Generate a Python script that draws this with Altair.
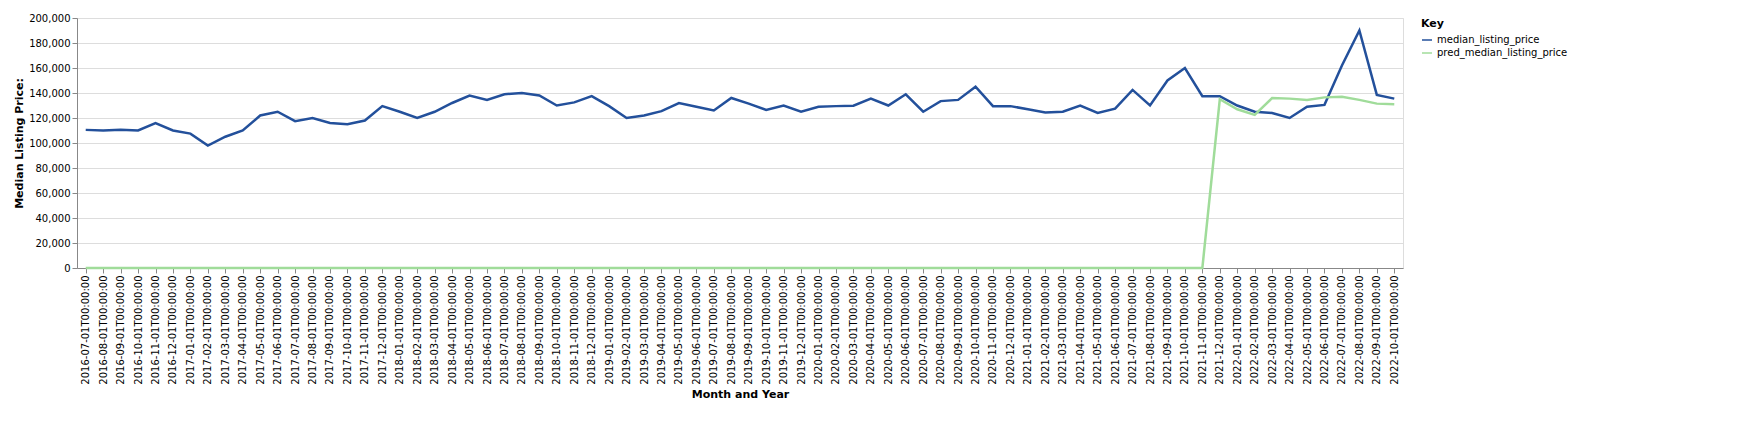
import altair as alt
import pandas as pd

months = pd.date_range("2016-07-01", "2022-10-01", freq="MS").strftime("%Y-%m-%dT00:00:00").tolist()

median_listing_price = [
    110500, 110000, 110500, 110000, 116000, 110000,
    107500, 98000, 105000, 110000, 122000, 125000, 117500, 120000, 116000, 115000, 118000, 129500,
    125000, 120000, 125000, 132000, 138000, 134500, 139000, 140000, 138000, 130000, 132500, 137500,
    129500, 120000, 122000, 125500, 132000, 129000, 126000, 136000, 131500, 126500, 130000, 125000,
    129000, 129500, 129800, 135500, 130000, 139000, 125000, 133500, 134500, 145000, 129500, 129500,
    127000, 124500, 125000, 130000, 124000, 127500, 142500, 130000, 150000, 160000, 137500, 137500,
    130000, 125000, 124000, 120000, 129000, 130500, 162000, 190000, 138500, 135500,
]

pred_median_listing_price = [0] * 65 + [
    135000, 127000, 122500, 136000, 135500, 134500, 136500, 137000, 134500, 131500, 131000,
]

df = pd.DataFrame({
    "month": months * 2,
    "price": median_listing_price + pred_median_listing_price,
    "key": ["median_listing_price"] * len(months) + ["pred_median_listing_price"] * len(months),
})

chart = alt.Chart(df).mark_line(strokeWidth=2.5).encode(
    x=alt.X("month:O", title="Month and Year", axis=alt.Axis(labelAngle=-90)),
    y=alt.Y("price:Q", title="Median Listing Price:", scale=alt.Scale(domain=[0, 200000])),
    color=alt.Color(
        "key:N",
        title="Key",
        scale=alt.Scale(
            domain=["median_listing_price", "pred_median_listing_price"],
            range=["#23509b", "#a0dc9a"],
        ),
    ),
).properties(
    width=1565, height=397,
    autosize=alt.AutoSizeParams(type="fit", contains="padding"),
).configure(font="DejaVu Sans")

chart.save("out.html", embed_options={"renderer": "svg", "actions": False})
